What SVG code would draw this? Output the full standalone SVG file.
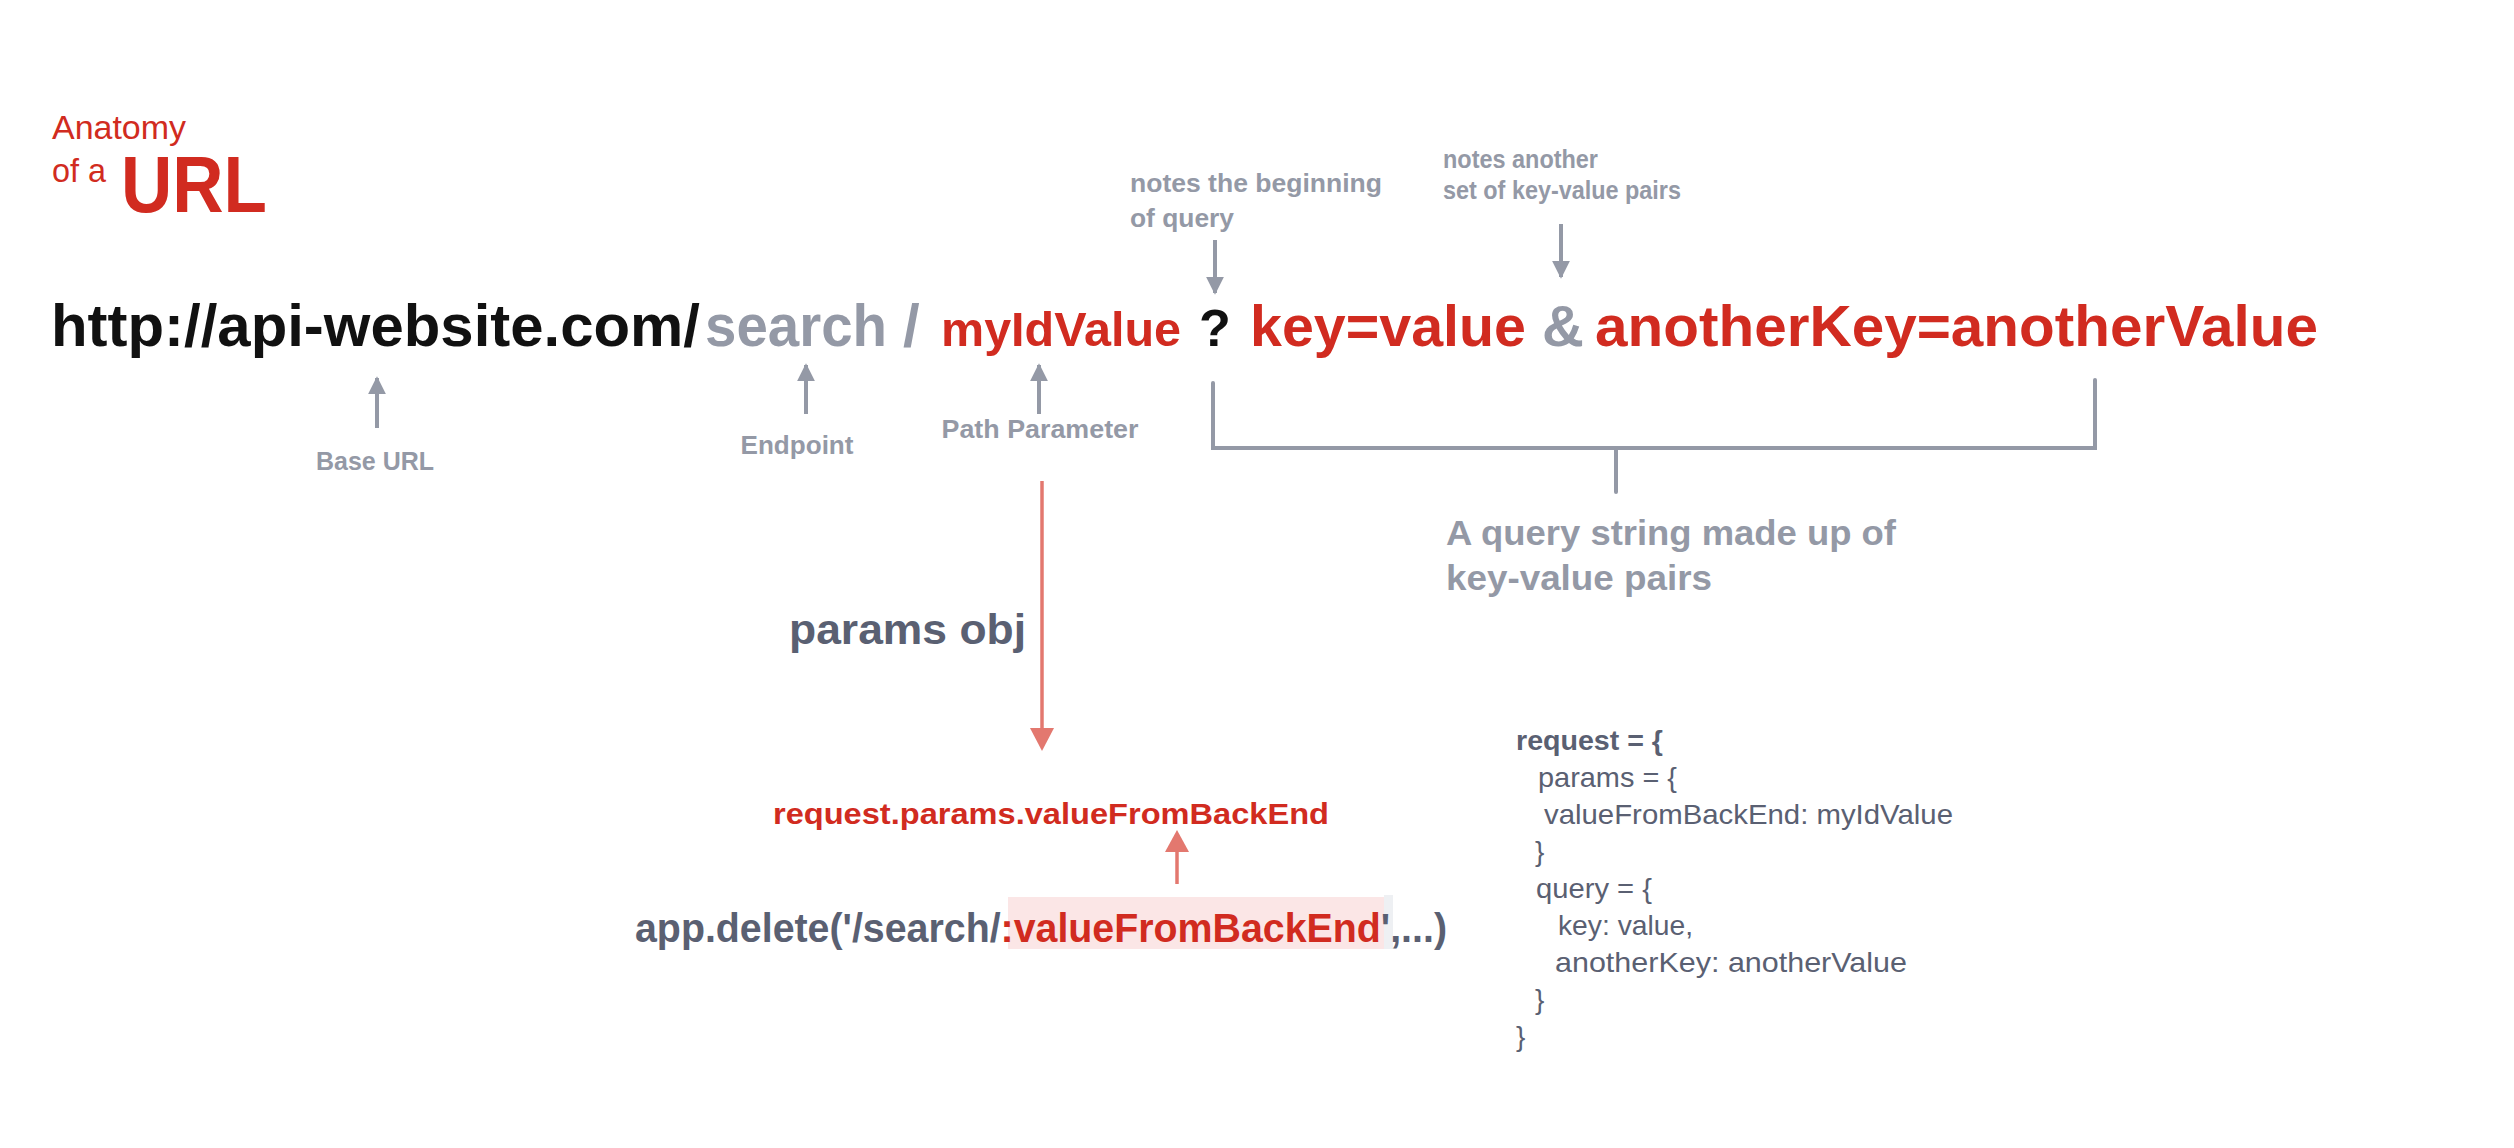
<svg xmlns="http://www.w3.org/2000/svg" width="2514" height="1148" viewBox="0 0 2514 1148">
<style>
text{font-family:"Liberation Sans",Arial,sans-serif}
.red{fill:#d12b20}
.gray{fill:#9499a6}
.slate{fill:#5a6072}
.blk{fill:#111111}
.b{font-weight:bold}
.lbl{font-size:26px;font-weight:bold;fill:#9499a6}
.url{font-size:60px;font-weight:bold}
.code{font-size:28px;fill:#5a6072}
.gline{stroke:#9499a6;stroke-width:4;fill:none}
.rline{stroke:#e3786f;stroke-width:3.5;fill:none}
</style>
<defs>
<marker id="ag" viewBox="0 0 10 10" refX="9" refY="5" markerWidth="4.5" markerHeight="4.5" orient="auto" markerUnits="strokeWidth">
<path d="M0,0 L10,5 L0,10 Z" fill="#9499a6"/>
</marker>
</defs>
<rect width="2514" height="1148" fill="#ffffff"/>
<g id="title">
<text x="52" y="139" class="red" font-size="34" textLength="134" lengthAdjust="spacingAndGlyphs">Anatomy</text>
<text x="52" y="182" class="red" font-size="34" textLength="54" lengthAdjust="spacingAndGlyphs">of a</text>
<text x="121" y="212" class="red b" font-size="80" textLength="146" lengthAdjust="spacingAndGlyphs">URL</text>
</g>
<g id="url">
<text x="51" y="346" class="url blk" textLength="649" lengthAdjust="spacingAndGlyphs">http://api-website.com/</text>
<text x="705" y="346" class="url gray" textLength="182" lengthAdjust="spacingAndGlyphs">search</text>
<text x="903" y="346" class="url gray">/</text>
<text x="941" y="346" class="red b" font-size="48" textLength="240" lengthAdjust="spacingAndGlyphs">myIdValue</text>
<text x="1199" y="346" class="blk b" font-size="52">?</text>
<text x="1250" y="346" class="red b" font-size="58" textLength="276" lengthAdjust="spacingAndGlyphs">key=value</text>
<text x="1542" y="346" class="gray b" font-size="58">&amp;</text>
<text x="1595" y="346" class="red b" font-size="58" textLength="723" lengthAdjust="spacingAndGlyphs">anotherKey=anotherValue</text>
</g>
<g id="connectors">
<line x1="377" y1="428" x2="377" y2="378" class="gline" marker-end="url(#ag)"/>
<line x1="806" y1="414" x2="806" y2="365" class="gline" marker-end="url(#ag)"/>
<line x1="1039" y1="414" x2="1039" y2="365" class="gline" marker-end="url(#ag)"/>
<line x1="1215" y1="240" x2="1215" y2="293" class="gline" marker-end="url(#ag)"/>
<line x1="1561" y1="224" x2="1561" y2="277" class="gline" marker-end="url(#ag)"/>
<path d="M1213,383 V448 H2095 V380 M1616,448 V492" class="gline" stroke-linecap="round"/>
<line x1="1042" y1="481" x2="1042" y2="730" class="rline"/>
<path d="M1030,728 L1054,728 L1042,751 Z" fill="#e3786f"/>
<line x1="1177" y1="884" x2="1177" y2="848" class="rline"/>
<path d="M1165,852 L1189,852 L1177,830 Z" fill="#e3786f"/>
</g>
<g id="labels">
<text x="375" y="470" class="lbl" text-anchor="middle" textLength="118" lengthAdjust="spacingAndGlyphs">Base URL</text>
<text x="797" y="454" class="lbl" text-anchor="middle" textLength="113" lengthAdjust="spacingAndGlyphs">Endpoint</text>
<text x="1040" y="438" class="lbl" text-anchor="middle" textLength="197" lengthAdjust="spacingAndGlyphs">Path Parameter</text>
<text x="1130" y="192" class="lbl" textLength="252" lengthAdjust="spacingAndGlyphs">notes the beginning</text>
<text x="1130" y="227" class="lbl" textLength="104" lengthAdjust="spacingAndGlyphs">of query</text>
<text x="1443" y="168" class="lbl" font-size="22" textLength="155" lengthAdjust="spacingAndGlyphs">notes another</text>
<text x="1443" y="199" class="lbl" font-size="22" textLength="238" lengthAdjust="spacingAndGlyphs">set of key-value pairs</text>
<text x="1446" y="545" class="gray b" font-size="35" textLength="450" lengthAdjust="spacingAndGlyphs">A query string made up of</text>
<text x="1446" y="590" class="gray b" font-size="35" textLength="266" lengthAdjust="spacingAndGlyphs">key-value pairs</text>
<text x="789" y="644" class="slate b" font-size="42" textLength="237" lengthAdjust="spacingAndGlyphs">params obj</text>
</g>
<g id="request-params">
<text x="773" y="824" class="red b" font-size="30" textLength="556" lengthAdjust="spacingAndGlyphs">request.params.valueFromBackEnd</text>
</g>
<g id="route">
<rect x="1008" y="897" width="376" height="52" fill="#fbe6e6"/>
<rect x="1384" y="895" width="9" height="54" fill="#eef0f3"/>
<text x="635" y="942" class="b" font-size="40" textLength="812" lengthAdjust="spacingAndGlyphs"><tspan class="slate">app.delete('/search/</tspan><tspan class="red">:valueFromBackEnd</tspan><tspan class="slate">',...)</tspan></text>
</g>
<g id="request-object">
<text x="1516" y="750" class="code b" textLength="147" lengthAdjust="spacingAndGlyphs">request = {</text>
<text x="1538" y="787" class="code" textLength="139" lengthAdjust="spacingAndGlyphs">params = {</text>
<text x="1544" y="824" class="code" textLength="409" lengthAdjust="spacingAndGlyphs">valueFromBackEnd: myIdValue</text>
<text x="1535" y="861" class="code">}</text>
<text x="1536" y="898" class="code" textLength="116" lengthAdjust="spacingAndGlyphs">query = {</text>
<text x="1558" y="935" class="code" textLength="135" lengthAdjust="spacingAndGlyphs">key: value,</text>
<text x="1555" y="972" class="code" textLength="352" lengthAdjust="spacingAndGlyphs">anotherKey: anotherValue</text>
<text x="1535" y="1009" class="code">}</text>
<text x="1516" y="1046" class="code">}</text>
</g>
</svg>
